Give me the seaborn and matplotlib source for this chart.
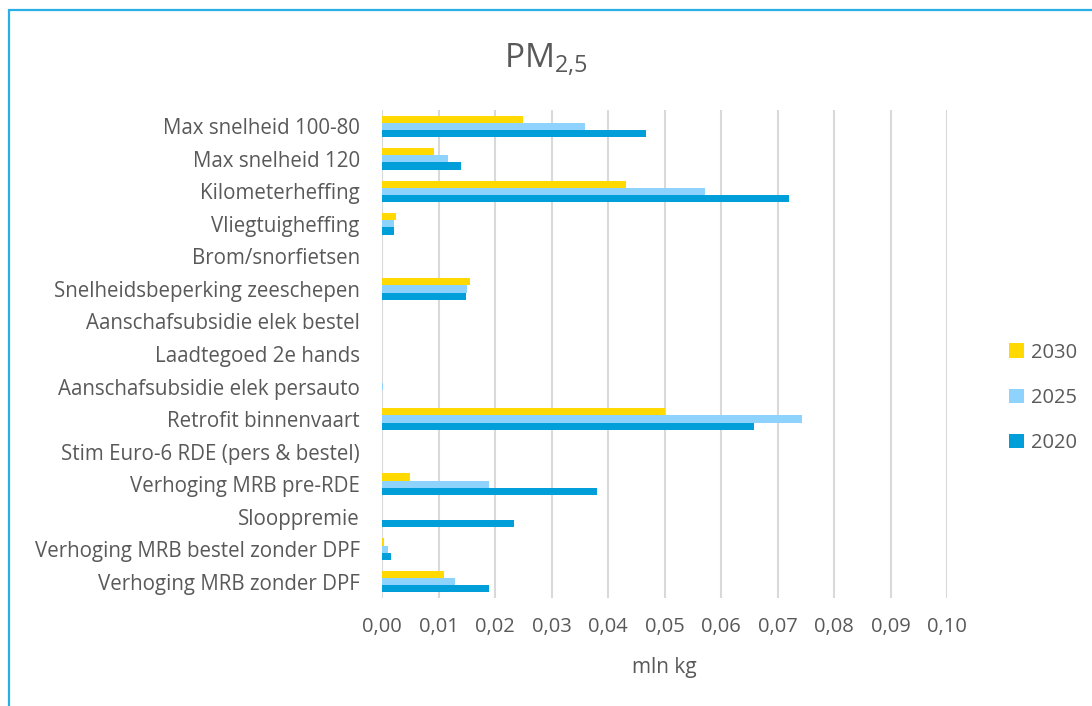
import matplotlib
matplotlib.use("Agg")
import matplotlib.pyplot as plt
import matplotlib.ticker as mticker
from matplotlib.lines import Line2D
import pandas as pd
import seaborn as sns

sns.set_style("white")
plt.rcParams["font.family"] = ["Open Sans", "DejaVu Sans"]

maatregelen = [
    "Max snelheid 100-80",
    "Max snelheid 120",
    "Kilometerheffing",
    "Vliegtuigheffing",
    "Brom/snorfietsen",
    "Snelheidsbeperking zeeschepen",
    "Aanschafsubsidie elek bestel",
    "Laadtegoed 2e hands",
    "Aanschafsubsidie elek persauto",
    "Retrofit binnenvaart",
    "Stim Euro-6 RDE (pers & bestel)",
    "Verhoging MRB pre-RDE",
    "Slooppremie",
    "Verhoging MRB bestel zonder DPF",
    "Verhoging MRB zonder DPF",
]
jaren = ["2030", "2025", "2020"]
v2030 = [0.0250, 0.0092, 0.0431, 0.0025, 0.0, 0.0155, 0.0, 0.0, 0.0, 0.0500, 0.0, 0.0050, 0.0, 0.0004, 0.0110]
v2025 = [0.0359, 0.0116, 0.0571, 0.0022, 0.0, 0.0151, 0.0, 0.0, 0.0001, 0.0744, 0.0, 0.0190, 0.0, 0.0010, 0.0130]
v2020 = [0.0468, 0.0139, 0.0720, 0.0021, 0.0, 0.0148, 0.0, 0.0, 0.0, 0.0658, 0.0, 0.0380, 0.0233, 0.0016, 0.0190]
kleuren = ["#FFD900", "#8ED3FD", "#009FDA"]

df = pd.DataFrame({
    "maatregel": maatregelen * 3,
    "jaar": [j for j in jaren for _ in maatregelen],
    "waarde": v2030 + v2025 + v2020,
})

fig = plt.figure(figsize=(10.92, 7.06), dpi=100)
ax = fig.add_axes([382 / 1092, 1 - 598 / 706, (947 - 382) / 1092, (598 - 110) / 706])

sns.barplot(data=df, y="maatregel", x="waarde", hue="jaar", hue_order=jaren,
            order=maatregelen, palette=kleuren, orient="h", width=0.66,
            saturation=1, linewidth=0, ax=ax, legend=True)

ax.set_xlim(0, 0.10)
ax.xaxis.set_major_locator(mticker.MultipleLocator(0.01))
ax.xaxis.set_major_formatter(mticker.FuncFormatter(lambda v, p: f"{v:.2f}".replace(".", ",")))
ax.grid(axis="x", color="#D9D9D9", linewidth=1.5)
ax.set_axisbelow(True)
for s in ax.spines.values():
    s.set_visible(False)
ax.tick_params(axis="both", length=0, labelcolor="#595959")
ax.tick_params(axis="x", labelsize=14.5, pad=14)
ax.tick_params(axis="y", labelsize=14.8, pad=16)
ax.set_ylabel("")
ax.set_xlabel("mln kg", fontsize=15, color="#595959", labelpad=14)

handles, labels = ax.get_legend_handles_labels()
ax.legend(handles, labels, loc="center left", bbox_to_anchor=(1.077, 0.41),
          frameon=False, fontsize=14.5, labelcolor="#595959",
          handlelength=0.75, handleheight=0.75, handletextpad=0.35, labelspacing=1.25)

fig.text(0.5, 1 - 60 / 706, "PM$_{\\mathregular{2{,}5}}$", ha="center", va="center",
         fontsize=24, color="#595959")

# blauwe kader linksboven
fig.add_artist(Line2D([9 / 1092, 9 / 1092], [0, 1 - 10 / 706], color="#29AEE6", linewidth=1.6))
fig.add_artist(Line2D([9 / 1092, 1], [1 - 10 / 706, 1 - 10 / 706], color="#29AEE6", linewidth=1.6))

fig.savefig("out.png", dpi=100)
